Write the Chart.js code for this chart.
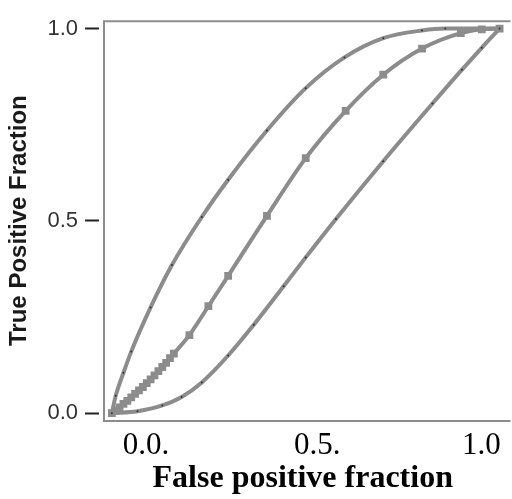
<!DOCTYPE html>
<html>
<head>
<meta charset="utf-8">
<script src="https://cdn.jsdelivr.net/npm/chart.js@4/dist/chart.umd.min.js"></script>
<style>
  html, body { margin: 0; padding: 0; background: #fff; }
  #wrap { width: 512px; height: 499px; }
</style>
</head>
<body>
<div id="wrap"><canvas id="roc"></canvas></div>
<script>
// ROC curves
const upperX = [0, 0.01, 0.03, 0.05, 0.1, 0.155, 0.232, 0.3, 0.4, 0.5, 0.6, 0.7, 0.8, 0.86, 1.0];
const upperY = [0, 0.045, 0.105, 0.16, 0.275, 0.385, 0.51, 0.607, 0.735, 0.845, 0.925, 0.975, 0.995, 1.0, 1.0];

const middleX = [0, 0.01, 0.02, 0.03, 0.04, 0.05, 0.06, 0.07, 0.08, 0.09, 0.1, 0.11, 0.12, 0.13, 0.14, 0.15, 0.16, 0.2, 0.249, 0.3, 0.4, 0.5, 0.603, 0.7, 0.8, 0.9, 0.954, 1.0];
const middleY = [0, 0.0075, 0.015, 0.024, 0.032, 0.041, 0.05, 0.059, 0.068, 0.078, 0.088, 0.098, 0.109, 0.12, 0.131, 0.143, 0.155, 0.203, 0.278, 0.357, 0.513, 0.663, 0.786, 0.88, 0.948, 0.988, 0.998, 1.0];

const lowerX = [0, 0.066, 0.13, 0.18, 0.232, 0.3, 0.366, 0.443, 0.5, 0.578, 0.7, 0.827, 0.903, 0.954, 1.0];
const lowerY = [0, 0.005, 0.02, 0.042, 0.08, 0.15, 0.23, 0.33, 0.405, 0.505, 0.655, 0.805, 0.893, 0.95, 1.0];

const yTicks = [0, 0.5, 1.0];
const yTickLabels = ['0.0', '0.5', '1.0'];
// where the x labels sit along the axis in the original
const xTickAt = [0.088, 0.53, 0.953];
const xTickLabels = ['0.0.', '0.5.', '1.0'];

const toPoints = (xs, ys) => xs.map((x, i) => ({x: x, y: ys[i]}));
const curveGray = '#8c8c8c';

// frame: left, top and bottom edges (right edge is cut off)
const framePlugin = {
    id: 'frame',
    beforeDatasetsDraw(chart) {
        const a = chart.chartArea;
        const ctx = chart.ctx;
        ctx.save();
        ctx.strokeStyle = '#8c8c8c';
        ctx.lineWidth = 2;
        ctx.beginPath();
        ctx.moveTo(a.right + 4, a.top + 1);
        ctx.lineTo(a.left + 5, a.top + 1);
        ctx.lineTo(a.left + 5, a.bottom);
        ctx.lineTo(a.right + 4, a.bottom);
        ctx.stroke();
        ctx.restore();
    }
};

new Chart(document.getElementById('roc'), {
    type: 'scatter',
    data: {
        datasets: [
            {
                data: toPoints(upperX, upperY),
                showLine: true,
                borderColor: curveGray,
                borderWidth: 4,
                cubicInterpolationMode: 'monotone',
                pointRadius: 1,
                pointBorderWidth: 0,
                pointBackgroundColor: '#333'
            },
            {
                data: toPoints(middleX, middleY),
                showLine: true,
                borderColor: curveGray,
                borderWidth: 4,
                cubicInterpolationMode: 'monotone',
                pointStyle: 'rect',
                pointRadius: 5.5,
                pointBorderWidth: 0,
                pointBackgroundColor: curveGray
            },
            {
                data: toPoints(lowerX, lowerY),
                showLine: true,
                borderColor: curveGray,
                borderWidth: 4,
                cubicInterpolationMode: 'monotone',
                pointRadius: 1,
                pointBorderWidth: 0,
                pointBackgroundColor: '#333'
            }
        ]
    },
    options: {
        responsive: true,
        maintainAspectRatio: false,
        animation: false,
        layout: { padding: { top: 11, right: 0, bottom: 0, left: 0 } },
        plugins: { legend: { display: false }, tooltip: { enabled: false } },
        scales: {
            x: {
                type: 'linear',
                min: -0.0331,
                max: 1.0178,
                afterFit(scale) { scale.height = 78; },
                afterBuildTicks(scale) {
                    scale.ticks = xTickAt.map(v => ({value: v}));
                },
                border: { display: false },
                grid: { display: false },
                ticks: {
                    padding: -2,
                    maxRotation: 0,
                    autoSkip: false,
                    color: '#000',
                    font: { family: 'Liberation Serif', size: 31, lineHeight: 1.2 },
                    callback: (v, i) => xTickLabels[i]
                },
                title: {
                    display: true,
                    text: 'False positive fraction',
                    color: '#000',
                    padding: { top: 0, bottom: 1 },
                    font: { family: 'Liberation Serif', size: 32, weight: 'bold', lineHeight: 1.2 }
                }
            },
            y: {
                type: 'linear',
                min: -0.0204,
                max: 1.0217,
                afterFit(scale) { scale.width = 99; },
                afterBuildTicks(scale) {
                    scale.ticks = yTicks.map(v => ({value: v}));
                },
                border: { display: false },
                grid: {
                    drawOnChartArea: false,
                    drawTicks: true,
                    tickLength: 14,
                    tickWidth: 2,
                    tickColor: '#222'
                },
                ticks: {
                    padding: 7,
                    color: '#333',
                    font: { family: 'Liberation Sans', size: 22 },
                    callback: (v, i) => yTickLabels[i]
                },
                title: {
                    display: true,
                    text: 'True Positive Fraction',
                    color: '#1a1a1a',
                    padding: { top: 5, bottom: 0 },
                    font: { family: 'Liberation Sans', size: 24, weight: 'bold', lineHeight: 1.2 }
                }
            }
        }
    },
    plugins: [framePlugin]
});
</script>
</body>
</html>
